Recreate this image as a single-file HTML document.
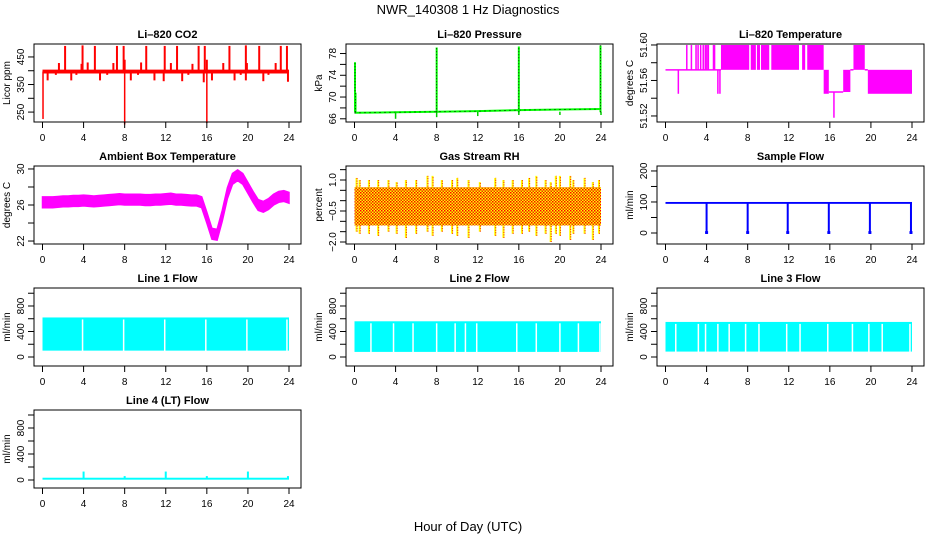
<!DOCTYPE html>
<html><head><meta charset="utf-8"><style>
body{margin:0;background:#fff;}
svg{display:block;font-family:"Liberation Sans",Arial,sans-serif;}
</style></head><body>
<svg id="c" width="936" height="540" viewBox="0 0 936 540" xmlns="http://www.w3.org/2000/svg">
<rect width="936" height="540" fill="#fff"/>
<text x="468" y="14" text-anchor="middle" font-size="13">NWR_140308  1 Hz Diagnostics</text>
<text x="468" y="531" text-anchor="middle" font-size="13">Hour of Day (UTC)</text>
</svg>
<script>
// ---- data arrays ----
const xTicks=[0,4,8,12,16,20,24];
// CO2
const co2Base=397;
const co2UpHours=[2.2,3.9,5.1,7.25,7.9,10.1,11.9,13.1,15.2,15.8,18.2,19.8,21.1,23.2,23.8];
const co2UpVals=[490,492,490,490,490,490,490,490,490,490,490,492,490,490,490];
const co2MidHours=[1.6,3.8,4.4,6.9,8.0,9.6,12.5,14.6,16.0,17.6,19.9,22.7];
const co2MidVals=[428,425,430,428,440,430,428,425,440,428,428,428];
const co2DownHours=[0.5,1.3,2.8,3.3,5.6,6.3,8.6,9.3,10.9,11.8,13.6,14.2,15.7,16.5,18.7,19.3,19.8,21.5,22.0,23.9];
const co2DownVals=[365,385,365,385,365,385,365,385,365,362,362,385,358,365,365,385,365,362,385,360];
const co2BigHours=[0.05,8.0,16.0];
const co2BigVals=[225,205,210];
// Pressure
const presBaseHours=[0,4,8,12,16,20,24];
const presBaseVals=[67.1,67.2,67.3,67.4,67.6,67.7,67.8];
const presSpikeHours=[0.05,0.1,8.0,16.0,23.95];
const presSpikeVals=[76.4,70.8,79.1,79.3,79.5];
const presDipHours=[4.0,8.0,12.0,16.0,20.0,24.0];
const presDipVals=[66.0,66.3,66.5,66.7,66.7,66.7];
// Li-820 temperature
const tempBlockStart=[2.0,2.45,2.9,3.1,3.35,3.6,3.8,3.95,4.1,4.6,5.4,8.3,8.9,9.3,10.3,13.3,13.8,18.3,15.4,17.3,19.7];
const tempBlockEnd=[2.05,2.5,2.95,3.15,3.4,3.65,3.85,4.0,4.2,4.85,8.15,8.8,9.2,10.1,13.0,13.6,15.4,19.4,15.9,18.0,24.0];
const tempBlockLo=[51.572,51.572,51.572,51.572,51.572,51.572,51.572,51.572,51.572,51.572,51.572,51.572,51.572,51.572,51.572,51.572,51.572,51.572,51.545,51.547,51.545];
const tempBlockHi=[51.600,51.600,51.600,51.600,51.600,51.600,51.600,51.600,51.600,51.600,51.600,51.600,51.600,51.600,51.600,51.600,51.600,51.600,51.572,51.572,51.572];
const tempLineStart=[0,15.9,18.0,19.4];
const tempLineEnd=[5.4,17.3,18.3,19.7];
const tempLineVal=[51.572,51.547,51.572,51.572];
const tempDipHours=[1.25,5.1,5.3,16.4];
const tempDipVals=[51.545,51.545,51.545,51.518];
// Ambient box temperature
const ambHours=[0,0.5,1,1.5,2,2.5,3,3.5,4,4.5,5,5.5,6,6.5,7,7.5,8,8.5,9,9.5,10,10.5,11,11.5,12,12.5,13,13.5,14,14.5,15,15.5,16,16.5,17,17.5,18,18.5,19,19.5,20,20.5,21,21.5,22,22.5,23,23.5,24];
const ambVals=[26.3,26.3,26.3,26.35,26.4,26.4,26.45,26.45,26.5,26.45,26.4,26.45,26.5,26.55,26.6,26.65,26.6,26.6,26.6,26.6,26.55,26.55,26.6,26.6,26.65,26.7,26.6,26.6,26.55,26.5,26.5,26.3,24.6,22.8,22.7,24.8,27.3,28.9,29.3,28.9,27.9,26.9,26.0,25.8,26.1,26.6,26.9,27.0,26.8];
const ambHalfWidth=[0.6];
// Gas stream RH
const rhBandLo=[-1.2];
const rhBandHi=[0.65];
const rhSpikeHours=[0.2,0.5,1.4,2.3,3.3,4.1,5.0,6.0,7.1,7.6,8.5,9.5,10.0,11.1,12.2,13.7,14.5,15.4,16.3,17.0,17.7,18.6,19.1,19.6,20.0,21.0,21.3,22.4,23.2,23.8];
const rhSpikeHi=[1.1,1.0,1.0,1.0,1.0,0.9,1.0,1.0,1.2,1.2,1.0,1.0,1.1,1.0,0.9,1.1,1.0,1.0,1.0,1.1,1.2,1.0,0.9,1.2,1.2,1.2,1.0,1.1,0.9,1.0];
const rhSpikeLo=[-1.5,-1.6,-1.6,-1.7,-1.5,-1.6,-1.8,-1.6,-1.5,-1.7,-1.5,-1.6,-1.7,-1.8,-1.5,-1.7,-1.8,-1.6,-1.6,-1.5,-1.7,-1.6,-2.0,-1.6,-1.7,-1.9,-1.6,-1.6,-1.9,-1.6];
// Sample flow
const sfBase=[97];
const sfDropHours=[4.0,8.0,11.9,15.9,19.9,23.9];
const sfDropVals=[-3,-3,-3,-3,-3,-3];
// Line flows
const l1Lo=[100];const l1Hi=[620];
const l1GapHours=[3.9,7.9,11.9,15.9,19.9,23.8];
const l2Lo=[80];const l2Hi=[560];
const l2GapHours=[1.6,3.8,5.7,8.0,9.8,10.8,11.9,15.8,17.7,20.0,21.8,23.9];
const l3Lo=[85];const l3Hi=[550];
const l3GapHours=[1.0,3.2,3.9,5.1,6.2,7.8,9.1,11.8,13.1,15.8,18.2,19.8,21.1,23.8];
const l4Base=[20];
const l4SpikeHours=[4.0,8.0,12.0,16.0,20.0,23.9];
const l4SpikeVals=[130,60,130,60,130,60];

// ---- drawing ----
const svg=document.getElementById('c');
const NS='http://www.w3.org/2000/svg';
function el(tag,attrs,parent){const e=document.createElementNS(NS,tag);for(const k in attrs)e.setAttribute(k,attrs[k]);(parent||svg).appendChild(e);return e;}

function panel(cfg){
  const g=el('g',{});
  
  
  const L=cfg.left,T=cfg.top,W=267,H=78;
  const sx=h=>L+8.5+h*(246.5/24);
  const sy=v=>T+H-(v-cfg.ylo)/(cfg.yhi-cfg.ylo)*H;
  const plot=el('g',{},g);
  
  
  cfg.draw(plot,sx,sy);
  const box=el('rect',{x:L,y:T,width:W,height:H,fill:'none',stroke:'#000','stroke-width':1},g);
  
  
  const xa=el('g',{},g);
  
  
  xTicks.forEach(t=>{
    el('line',{x1:sx(t),x2:sx(t),y1:T+H,y2:T+H+6,stroke:'#000'},xa);
    const tx=el('text',{x:sx(t),y:T+H+19,'text-anchor':'middle','font-size':10},xa);
    tx.textContent=t;
  });
  const ya=el('g',{},g);
  
  
  cfg.yticks.forEach((t,i)=>{
    el('line',{x1:L-6,x2:L,y1:sy(t),y2:sy(t),stroke:'#000'},ya);
    if(cfg.ylabels[i]!==''){
      const tx=el('text',{x:0,y:0,'text-anchor':'middle','font-size':10,transform:`translate(${L-10},${sy(t)}) rotate(-90)`},ya);
      tx.textContent=cfg.ylabels[i];
    }
  });
  const ttl=el('text',{x:L+W/2,y:T-6,'text-anchor':'middle','font-size':11,'font-weight':'bold'},g);
  ttl.textContent=cfg.title;
  
  
  const yl=el('text',{x:0,y:0,'text-anchor':'middle','font-size':10,transform:`translate(${L-24},${T+H/2}) rotate(-90)`},g);
  yl.textContent=cfg.ylab;
  
  
}
function vline(p,x,y1,y2,c,w){return el('line',{x1:x,x2:x,y1:y1,y2:y2,stroke:c,'stroke-width':w||1.5},p);}
function step(a,b){const r=[];for(let v=a;v<=b+1e-9;v+=step.s)r.push(+v.toFixed(4));return r;}

panel({name:'co2-panel',title:'Li\u2013820 CO2',ylab:'Licor ppm',left:34,top:44,ylo:214,yhi:497,
 yticks:[250,300,350,400,450],ylabels:['250','','350','','450'],
 draw(p,sx,sy){
  co2UpHours.forEach((h,i)=>vline(p,sx(h),sy(co2Base),sy(co2UpVals[i]),'#f00',2));
  co2MidHours.forEach((h,i)=>vline(p,sx(h),sy(co2Base),sy(co2MidVals[i]),'#f00',2));
  co2DownHours.forEach((h,i)=>vline(p,sx(h),sy(co2Base),sy(co2DownVals[i]),'#f00',2));
  co2BigHours.forEach((h,i)=>vline(p,sx(h),sy(co2Base),sy(co2BigVals[i]),'#f00',1.5));
  el('rect',{x:sx(0),y:sy(co2Base+7),width:sx(24)-sx(0),height:sy(co2Base-7)-sy(co2Base+7),fill:'#f00'},p);
 }});

panel({name:'pressure-panel',title:'Li\u2013820 Pressure',ylab:'kPa',left:346,top:44,ylo:65.41,yhi:79.75,
 yticks:[66,68,70,72,74,76,78],ylabels:['66','','70','','74','','78'],
 draw(p,sx,sy){
  let d='';presBaseHours.forEach((h,i)=>d+=(i?'L':'M')+sx(h)+','+sy(presBaseVals[i]));
  el('path',{d:d,fill:'none',stroke:'#0f0','stroke-width':2},p);
  el('path',{d:d,fill:'none',stroke:'#000','stroke-width':1,'stroke-dasharray':'1,4'},p);
  presDipHours.forEach((h,i)=>vline(p,sx(h),sy(67.3),sy(presDipVals[i]),'#0c0',1.5));
  presSpikeHours.forEach((h,i)=>{vline(p,sx(h),sy(67.2),sy(presSpikeVals[i]),'#0f0',2);
    vline(p,sx(h),sy(67.2),sy(presSpikeVals[i]),'#000',0.8).setAttribute('stroke-dasharray','1,2');});
 }});

panel({name:'li820-temperature-panel',title:'Li\u2013820 Temperature',ylab:'degrees C',left:657,top:44,ylo:51.5132,yhi:51.6011,
 yticks:[51.52,51.54,51.56,51.58,51.60],ylabels:['51.52','','51.56','','51.60'],
 draw(p,sx,sy){
  tempLineStart.forEach((s,i)=>el('line',{x1:sx(s),x2:sx(tempLineEnd[i]),y1:sy(tempLineVal[i]),y2:sy(tempLineVal[i]),stroke:'#f0f','stroke-width':1.5},p));
  tempBlockStart.forEach((s,i)=>el('rect',{x:sx(s),y:sy(tempBlockHi[i]),width:Math.max(1.5,sx(tempBlockEnd[i])-sx(s)),height:sy(tempBlockLo[i])-sy(tempBlockHi[i]),fill:'#f0f'},p));
  tempDipHours.forEach((h,i)=>vline(p,sx(h),sy(h>16?51.547:51.572),sy(tempDipVals[i]),'#f0f',1.5));
 }});

panel({name:'ambient-temperature-panel',title:'Ambient Box Temperature',ylab:'degrees C',left:34,top:166,ylo:21.67,yhi:30.33,
 yticks:[22,24,26,28,30],ylabels:['22','','26','','30'],
 draw(p,sx,sy){
  let up='',dn='';const w=ambHalfWidth[0];
  ambHours.forEach((h,i)=>{up+=(i?'L':'M')+sx(h)+','+sy(ambVals[i]+w);});
  for(let i=ambHours.length-1;i>=0;i--)dn+='L'+sx(ambHours[i])+','+sy(ambVals[i]-w);
  el('path',{d:up+dn+'Z',fill:'#f0f',stroke:'#f0f','stroke-width':1.5},p);
 }});

panel({name:'rh-panel',title:'Gas Stream RH',ylab:'percent',left:346,top:166,ylo:-2.097,yhi:1.677,
 yticks:[-2,-1.5,-1,-0.5,0,0.5,1,1.5],ylabels:['\u22122.0','','','\u22120.5','','','1.0',''],
 draw(p,sx,sy){
  const defs=el('defs',{},p);
  const pat=el('pattern',{id:'rhpat',width:3,height:3,patternUnits:'userSpaceOnUse'},defs);
  el('rect',{width:3,height:3,fill:'#ff0'},pat);
  el('rect',{x:0,y:0,width:1.5,height:1.5,fill:'#f00'},pat);
  el('rect',{x:1.5,y:1.5,width:1.5,height:1.5,fill:'#e83000'},pat);
  rhSpikeHours.forEach((h,i)=>{vline(p,sx(h),sy(rhSpikeLo[i]),sy(rhSpikeHi[i]),'#ff0',2);
    vline(p,sx(h)+0.5,sy(rhSpikeLo[i]),sy(rhSpikeHi[i]),'#f00',1).setAttribute('stroke-dasharray','1,1.5');});
  el('rect',{x:sx(0),y:sy(rhBandHi[0]),width:sx(24)-sx(0),height:sy(rhBandLo[0])-sy(rhBandHi[0]),fill:'url(#rhpat)'},p);
 }});

panel({name:'sample-flow-panel',title:'Sample Flow',ylab:'ml/min',left:657,top:166,ylo:-35.5,yhi:216,
 yticks:[0,50,100,150,200],ylabels:['0','','100','','200'],
 draw(p,sx,sy){
  el('rect',{x:sx(0),y:sy(sfBase[0]+3),width:sx(24)-sx(0),height:sy(sfBase[0]-3)-sy(sfBase[0]+3),fill:'#00f'},p);
  sfDropHours.forEach((h,i)=>{vline(p,sx(h),sy(sfBase[0]),sy(sfDropVals[i]),'#00f',2);
    el('rect',{x:sx(h)-1.5,y:sy(6),width:3,height:sy(-3)-sy(6),fill:'#00f'},p);});
 }});

function flowPanel(name,title,left,top,lo,hi,gaps,ylo,yhi){
 panel({name:name,title:title,ylab:'ml/min',left:left,top:top,ylo:ylo,yhi:yhi,
  yticks:[0,200,400,600,800,1000],ylabels:['0','','400','','800',''],
  draw(p,sx,sy){
   el('rect',{x:sx(0),y:sy(hi),width:sx(24)-sx(0),height:sy(lo)-sy(hi),fill:'#0ff'},p);
   gaps.forEach(h=>vline(p,sx(h),sy(hi)+2,sy(lo)+1,'#fff',1.5));
  }});
}
flowPanel('line1-flow-panel','Line 1 Flow',34,288,l1Lo[0],l1Hi[0],l1GapHours,-141,1082);
flowPanel('line2-flow-panel','Line 2 Flow',346,288,l2Lo[0],l2Hi[0],l2GapHours,-141,1082);
flowPanel('line3-flow-panel','Line 3 Flow',657,288,l3Lo[0],l3Hi[0],l3GapHours,-141,1082);

panel({name:'line4-flow-panel',title:'Line 4 (LT) Flow',ylab:'ml/min',left:34,top:410,ylo:-123,yhi:1077,
 yticks:[0,200,400,600,800,1000],ylabels:['0','','400','','800',''],
 draw(p,sx,sy){
  el('rect',{x:sx(0),y:sy(l4Base[0]+15),width:sx(24)-sx(0),height:sy(l4Base[0]-15)-sy(l4Base[0]+15),fill:'#0ff'},p);
  l4SpikeHours.forEach((h,i)=>vline(p,sx(h),sy(l4Base[0]),sy(l4SpikeVals[i]),'#0ff',2));
 }});
</script>
</body></html>
